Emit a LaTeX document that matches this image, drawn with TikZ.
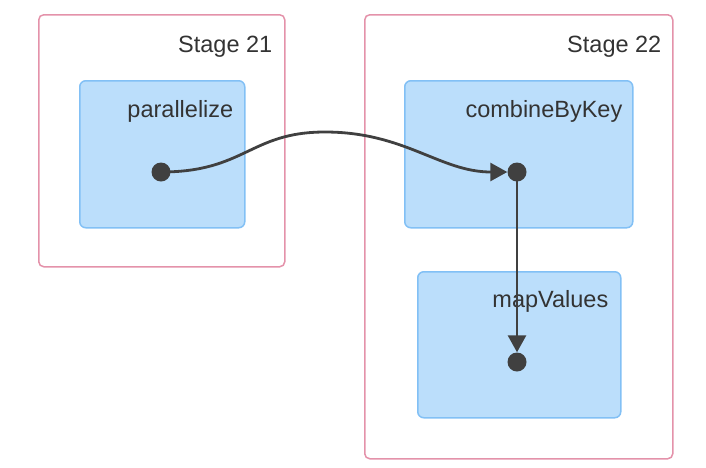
\documentclass[tikz,border=0pt]{standalone}
\usepackage{fontspec}
\setmainfont{Liberation Sans}
\usetikzlibrary{arrows.meta, positioning}
\definecolor{StagePink}{RGB}{228,146,170}
\definecolor{OpBlue}{RGB}{187,222,251}
\definecolor{OpEdge}{RGB}{130,192,245}
\definecolor{EdgeGray}{RGB}{64,64,64}
\definecolor{LabelGray}{RGB}{51,51,51}

\begin{document}
\begin{tikzpicture}[
          x=1pt, y=-1pt,
          stage/.style={rectangle, draw=StagePink, line width=1.5pt, rounded corners=5pt, inner sep=0pt, anchor=north west},
          op/.style={rectangle, draw=OpEdge, fill=OpBlue, line width=1.5pt, rounded corners=6pt, inner sep=0pt, anchor=north west},
          lbl/.style={anchor=base east, text=LabelGray, inner sep=0pt, font=\fontsize{23.5}{28}\selectfont},
          dot/.style={circle, fill=EdgeGray, inner sep=0pt, minimum size=19pt},
          arrow/.style={-{Triangle[length=17pt, width=18pt]}, line width=2.8pt, EdgeGray}
        ]
          \useasboundingbox (0,0) rectangle (706,467);

          \node (stage21) [stage, minimum width=246pt, minimum height=252pt] at (38,14) {};
          \node (stage22) [stage, minimum width=308pt, minimum height=444pt] at (364,14) {};
          \node [lbl, below left=38pt and 13pt of stage21.north east, anchor=base east] {Stage 21};
          \node [lbl, below left=38pt and 12pt of stage22.north east, anchor=base east] {Stage 22};

          \node (parallelize) [op, minimum width=165pt, minimum height=147pt] at (79,80) {};
          \node (combine) [op, minimum width=228pt, minimum height=147pt] at (404,80) {};
          \node (mapvalues) [op, minimum width=203pt, minimum height=146pt] at (417,271) {};
          \node [lbl, below left=37pt and 12pt of parallelize.north east, anchor=base east] {parallelize};
          \node [lbl, below left=37pt and 11pt of combine.north east, anchor=base east] {combineByKey};
          \node [lbl, below left=36pt and 13pt of mapvalues.north east, anchor=base east] {mapValues};

          \node (pdot) [dot] at (161,172) {};
          \node (cdot) [dot] at (517,172) {};
          \node (mdot) [dot] at (517,362) {};

          \draw [arrow] (pdot.center) .. controls (245,172) and (250,132) .. (325,132)
                .. controls (405,132) and (440,172) .. (cdot.west);
          \draw [arrow] (cdot.center) -- (mdot.north);
        \end{tikzpicture}
\end{document}
